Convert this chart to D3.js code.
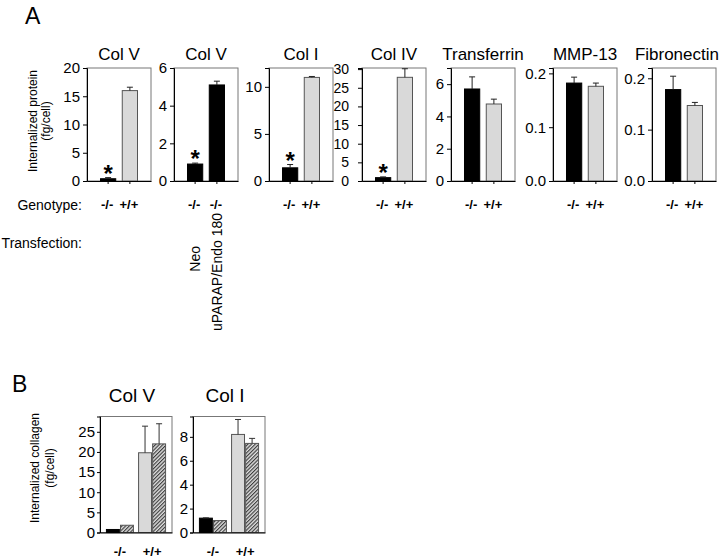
<!DOCTYPE html>
<html>
<head>
<meta charset="utf-8">
<script src="https://cdn.jsdelivr.net/npm/d3@7"></script>
<style>
  html, body { margin: 0; padding: 0; background: #fff; }
  svg { display: block; font-family: "Liberation Sans", Arial, sans-serif; }
</style>
</head>
<body>
<svg id="chart" width="720" height="560"></svg>
<script>
// ---------------- DATA ----------------
// Panel A
const aTitles    = ["Col V", "Col V", "Col I", "Col IV", "Transferrin", "MMP-13", "Fibronectin"];
const aValues    = [[0.4, 16.0], [0.9, 5.1], [1.4, 11.0], [0.9, 27.8], [5.7, 4.77], [0.182, 0.176], [0.178, 0.147]];
const aErrors    = [[0.2, 0.6], [0.05, 0.2], [0.35, 0.1], [0.2, 2.3], [0.75, 0.3], [0.011, 0.006], [0.026, 0.006]];
const aFills     = [["black", "gray"], ["black", "black"], ["black", "gray"], ["black", "gray"], ["black", "gray"], ["black", "gray"], ["black", "gray"]];
const aGenotype  = [["-/-", "+/+"], ["-/-", "-/-"], ["-/-", "+/+"], ["-/-", "+/+"], ["-/-", "+/+"], ["-/-", "+/+"], ["-/-", "+/+"]];
const aYMax      = [20, 6, 12, 30.3, 7, 0.21, 0.22];
const aTicks     = [[0, 5, 10, 15, 20], [0, 2, 4, 6], [0, 5, 10], [0, 5, 10, 15, 20, 25, 30], [0, 2, 4, 6], [0, 0.1, 0.2], [0, 0.1, 0.2]];
const aTickFmt   = ["d", "d", "d", "d", "d", ".1f", ".1f"];
const aStars     = [[true, false], [true, false], [true, false], [true, false], [false, false], [false, false], [false, false]];
const aTransfect = [null, ["Neo", "uPARAP/Endo 180"], null, null, null, null, null];
const aYLabel    = ["Internalized protein", "(fg/cell)"];
const rowLabels  = ["Genotype:", "Transfection:"];

// Panel B
const bTitles    = ["Col V", "Col I"];
const bGroups    = ["-/-", "+/+"];
const bSeries    = ["a", "b"];
const bValues    = [[[0.75, 1.8], [19.8, 22.0]], [[1.2, 1.0], [8.2, 7.45]]];
const bErrors    = [[[0.0, 0.0], [6.6, 5.0]], [[0.03, 0.0], [1.25, 0.42]]];
const bFills     = [["black", "hatch"], ["gray", "hatch"]];
const bYMax      = [28.8, 9.7];
const bTicks     = [[0, 5, 10, 15, 20, 25], [0, 2, 4, 6, 8]];
const bYLabel    = ["Internalized collagen", "(fg/cell)"];

// ---------------- LAYOUT ----------------
const svg = d3.select("#chart");
const FONT = "Liberation Sans, Arial, sans-serif";
const GRAY = "#d9d9d9";

const defs = svg.append("defs");
const pat = defs.append("pattern")
  .attr("id", "hatch").attr("patternUnits", "userSpaceOnUse")
  .attr("width", 2.6).attr("height", 2.6)
  .attr("patternTransform", "rotate(45)");
pat.append("rect").attr("width", 2.6).attr("height", 2.6).attr("fill", "#e0e0e0");
pat.append("line").attr("x1", 0.6).attr("y1", 0).attr("x2", 0.6).attr("y2", 2.6)
  .attr("stroke", "#333").attr("stroke-width", 1.1);

function fillFor(f) {
  if (f === "black") return "#000";
  if (f === "gray") return GRAY;
  return "url(#hatch)";
}

// Panel letters
svg.append("text").attr("x", 25).attr("y", 24).attr("font-size", 23).text("A");
svg.append("text").attr("x", 12).attr("y", 392).attr("font-size", 23).text("B");

// ---------- Panel A ----------
const aLeft = [87, 174, 269, 362, 451, 553, 652];
const aW = 64, aTop = 68, aBottom = 181;

aTitles.forEach((title, i) => {
  const g = svg.append("g");
  const x0 = aLeft[i];
  const x = d3.scaleBand().domain([0, 1]).range([x0, x0 + aW]).paddingInner(0.3).paddingOuter(0.62);
  const y = d3.scaleLinear().domain([0, aYMax[i]]).range([aBottom, aTop]);

  // frame
  g.append("rect").attr("x", x0).attr("y", aTop).attr("width", aW).attr("height", aBottom - aTop)
    .attr("fill", "none").attr("stroke", "#777").attr("stroke-width", 1);

  // bars
  [0, 1].forEach(j => {
    const v = aValues[i][j];
    const fill = aFills[i][j];
    g.append("rect")
      .attr("x", x(j)).attr("width", x.bandwidth())
      .attr("y", y(v)).attr("height", aBottom - y(v))
      .attr("fill", fillFor(fill))
      .attr("stroke", fill === "black" ? "#000" : "#555").attr("stroke-width", 1);
    // error bar
    const cx = x(j) + x.bandwidth() / 2;
    const e = aErrors[i][j];
    if (e > 0) {
      g.append("line").attr("x1", cx).attr("x2", cx).attr("y1", y(v)).attr("y2", y(v + e))
        .attr("stroke", "#222").attr("stroke-width", 1);
      g.append("line").attr("x1", cx - 3).attr("x2", cx + 3).attr("y1", y(v + e)).attr("y2", y(v + e))
        .attr("stroke", "#222").attr("stroke-width", 1);
    }
    if (aStars[i][j]) {
      g.append("text").attr("x", cx).attr("y", y(v + e) + 4)
        .attr("text-anchor", "middle").attr("font-size", 24).attr("font-weight", "bold").text("*");
    }
    // genotype label
    g.append("text").attr("x", cx - 1).attr("y", 209).attr("text-anchor", "middle")
      .attr("font-size", 13).attr("font-weight", "bold").text(aGenotype[i][j]);
    // transfection labels
    if (aTransfect[i]) {
      const ty = j === 0 ? 246 : 213;
      g.append("text").attr("transform", `translate(${cx + 5},${ty}) rotate(-90)`)
        .attr("text-anchor", "end").attr("font-size", 14).text(aTransfect[i][j]);
    }
  });

  // y axis
  const yAxis = d3.axisLeft(y).tickValues(aTicks[i]).tickSize(4)
    .tickPadding(i === 3 ? 9 : 3).tickFormat(d3.format(aTickFmt[i]));
  const ya = g.append("g").attr("transform", `translate(${x0},0)`).call(yAxis);
  ya.select(".domain").attr("stroke", "#000");
  ya.selectAll("text").attr("font-size", i === 3 ? 14 : 15).attr("font-family", FONT).attr("fill", "#000");

  // x axis
  const xAxis = d3.axisBottom(x).tickSize(3).tickSizeOuter(0).tickFormat("");
  const xa = g.append("g").attr("transform", `translate(0,${aBottom})`).call(xAxis);
  xa.select(".domain").attr("stroke", "#000");

  // title (keep the last one inside the picture)
  const t = g.append("text").attr("y", 60).attr("font-size", 17).text(title);
  if (i === aTitles.length - 1) {
    t.attr("x", 719).attr("text-anchor", "end");
  } else {
    t.attr("x", x0 + aW / 2).attr("text-anchor", "middle");
  }
});

// y label A
const yl = svg.append("g").attr("transform", "translate(42,121) rotate(-90)");
yl.append("text").attr("y", -5).attr("text-anchor", "middle").attr("font-size", 12).text(aYLabel[0]);
yl.append("text").attr("y", 8).attr("text-anchor", "middle").attr("font-size", 12).text(aYLabel[1]);

// row labels
svg.append("text").attr("x", 82).attr("y", 210).attr("text-anchor", "end").attr("font-size", 14).text(rowLabels[0]);
svg.append("text").attr("x", 82).attr("y", 248).attr("text-anchor", "end").attr("font-size", 14).text(rowLabels[1]);

// ---------- Panel B ----------
const bLeft = [100, 193];
const bW = 72, bTop = 416.5, bBottom = 532.5;

bTitles.forEach((title, i) => {
  const g = svg.append("g");
  const x0 = bLeft[i];
  const xg = d3.scaleBand().domain(bGroups).range([x0, x0 + bW]).paddingInner(0.16).paddingOuter(0.2);
  const xs = d3.scaleBand().domain(bSeries).range([0, xg.bandwidth()]).paddingInner(0.08);
  const y = d3.scaleLinear().domain([0, bYMax[i]]).range([bBottom, bTop]);

  g.append("rect").attr("x", x0).attr("y", bTop).attr("width", bW).attr("height", bBottom - bTop)
    .attr("fill", "none").attr("stroke", "#777").attr("stroke-width", 1);

  bGroups.forEach((grp, gi) => {
    bSeries.forEach((s, si) => {
      const v = bValues[i][gi][si];
      const e = bErrors[i][gi][si];
      const f = bFills[gi][si];
      const bx = xg(grp) + xs(s);
      g.append("rect").attr("x", bx).attr("width", xs.bandwidth())
        .attr("y", y(v)).attr("height", bBottom - y(v))
        .attr("fill", fillFor(f)).attr("stroke", f === "black" ? "#000" : "#555").attr("stroke-width", 1);
      const cx = bx + xs.bandwidth() / 2;
      if (e > 0) {
        g.append("line").attr("x1", cx).attr("x2", cx).attr("y1", y(v)).attr("y2", y(v + e))
          .attr("stroke", "#333").attr("stroke-width", 1);
        g.append("line").attr("x1", cx - 3).attr("x2", cx + 3).attr("y1", y(v + e)).attr("y2", y(v + e))
          .attr("stroke", "#333").attr("stroke-width", 1);
      }
    });
    g.append("text").attr("x", xg(grp) + xg.bandwidth() / 2).attr("y", 556)
      .attr("text-anchor", "middle").attr("font-size", 13).attr("font-weight", "bold").text(grp);
  });

  const yAxis = d3.axisLeft(y).tickValues(bTicks[i]).tickSize(3).tickPadding(2);
  const ya = g.append("g").attr("transform", `translate(${x0},0)`).call(yAxis);
  ya.select(".domain").attr("stroke", "#000");
  ya.selectAll("text").attr("font-size", 15).attr("font-family", FONT).attr("fill", "#000");

  const xa = g.append("g").attr("transform", `translate(0,${bBottom})`)
    .call(d3.axisBottom(xg).tickSize(0).tickSizeOuter(0).tickFormat(""));
  xa.select(".domain").attr("stroke", "#000");

  g.append("text").attr("x", x0 + bW / 2 - 4).attr("y", 402).attr("text-anchor", "middle")
    .attr("font-size", 19).text(title);
});

const ylb = svg.append("g").attr("transform", "translate(43,468) rotate(-90)");
ylb.append("text").attr("y", -4).attr("text-anchor", "middle").attr("font-size", 12).text(bYLabel[0]);
ylb.append("text").attr("y", 11).attr("text-anchor", "middle").attr("font-size", 12).text(bYLabel[1]);
</script>
</body>
</html>
